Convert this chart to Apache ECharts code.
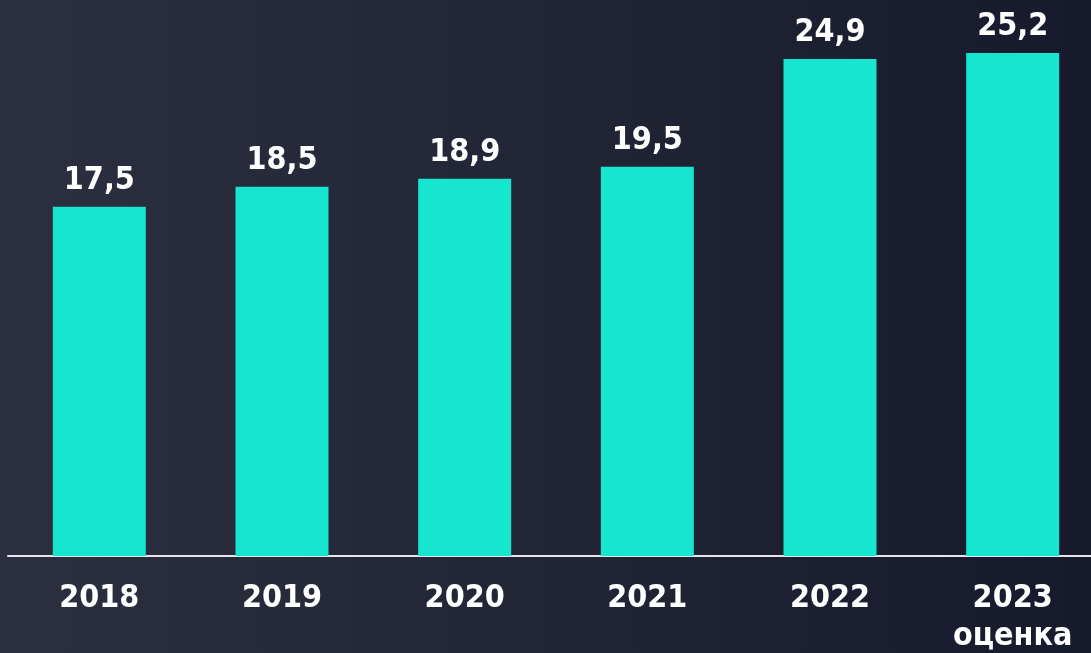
<!DOCTYPE html>
<html>
<head>
<meta charset="utf-8">
<script src="https://cdn.jsdelivr.net/npm/echarts@6/dist/echarts.min.js"></script>
<style>
  html, body { margin: 0; padding: 0; }
  body {
    width: 1091px;
    height: 653px;
    background: linear-gradient(90deg, #2c2f3f 0%, #222535 50%, #171a2d 100%);
    overflow: hidden;
  }
  #chart { width: 1091px; height: 653px; }
</style>
</head>
<body>
<div id="chart"></div>
<script>
const years = ['2018', '2019', '2020', '2021', '2022', '2023\nоценка'];
const values = [17.5, 18.5, 18.9, 19.5, 24.9, 25.2];

const font = '"DejaVu Sans Condensed", "DejaVu Sans", sans-serif';

const chart = echarts.init(document.getElementById('chart'), null, { renderer: 'canvas' });

chart.setOption({
  animation: false,
  backgroundColor: 'transparent',
  // the category bands run past the right edge, so don't let the grid shrink to fit
  grid: { left: 8, width: 1096, top: 7, height: 549, outerBoundsMode: 'none', containLabel: false },
  xAxis: {
    type: 'category',
    data: years,
    axisLine: { lineStyle: { color: '#e6e6ea', width: 2 } },
    axisTick: { show: false },
    axisLabel: {
      color: '#ffffff',
      fontFamily: font,
      fontWeight: 'bold',
      fontSize: 32,
      lineHeight: 38,
      margin: 24,
      verticalAlign: 'top'
    }
  },
  yAxis: {
    type: 'value',
    min: 0,
    max: 27.5,
    show: false,
    splitLine: { show: false }
  },
  series: [{
    type: 'bar',
    data: values,
    barWidth: 93,
    itemStyle: { color: '#16e6d0' },
    label: {
      show: true,
      position: 'top',
      distance: 10,
      color: '#ffffff',
      fontFamily: font,
      fontWeight: 'bold',
      fontSize: 32,
      formatter: p => String(p.value).replace('.', ',')
    }
  }]
});
</script>
</body>
</html>
